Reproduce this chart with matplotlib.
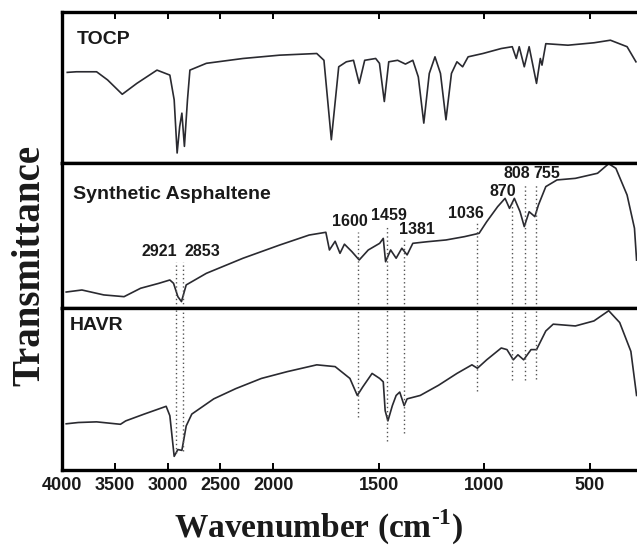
import numpy as np
import matplotlib
matplotlib.use("Agg")
import matplotlib.pyplot as plt

# FTIR spectra (wavenumber in cm-1, transmittance in arbitrary units per panel)
tocp_wn = [3950, 3863, 3672, 3568, 3429, 3291, 3100, 2978, 2937, 2909, 2885, 2864, 2840,
           2811, 2788, 2632, 2285, 1969, 1793, 1759, 1724, 1689, 1653, 1619, 1592, 1566,
           1514, 1496, 1473, 1452, 1410, 1373, 1338, 1312, 1286, 1260, 1233, 1207, 1181,
           1155, 1129, 1102, 1076, 1006, 919, 867, 848, 834, 810, 787, 752, 734, 726, 708,
           603, 480, 402, 323, 281]
tocp_t = [60, 60.4, 60.4, 55, 45.5, 52.7, 61.5, 58.2, 41.8, 6.6, 24, 33, 11,
          41.8, 61.5, 66, 69.2, 71.4, 72.5, 68, 15.4, 63.7, 67, 68, 52.7, 68,
          69.2, 66, 40.7, 67, 68, 65.5, 68, 57, 26.4, 59.3, 70.3, 59.3, 28.6,
          59.3, 67, 63.7, 70.3, 72.5, 75.8, 77, 69.2, 77, 63.7, 77, 52.7, 69.2, 64.8, 79,
          78, 79.6, 81.3, 77, 67]

asph_wn = [3960, 3811, 3604, 3412, 3255, 3082, 2978, 2943, 2902, 2868, 2823, 2632, 2285,
           1969, 1829, 1750, 1733, 1706, 1683, 1662, 1627, 1592, 1549, 1495, 1478, 1467,
           1443, 1417, 1390, 1365, 1338, 1269, 1181, 1093, 1024, 988, 936, 901, 880, 857,
           830, 810, 787, 760, 743, 708, 655, 568, 463, 410, 376, 323, 288, 278]
asph_t = [11, 12.4, 9, 7.8, 13.6, 17, 19.3, 17, 7.8, 4.4, 15.9, 23.9, 34.3,
          43.4, 50.3, 52.2, 40, 46, 37.7, 44, 38.9, 33.1, 40, 44.6, 48, 31.9,
          40, 34.3, 41.2, 36.6, 44.6, 45.7, 46.9, 49.2, 51.5, 59.5, 69.9, 75.6, 68.7, 75.6,
          66.4, 56.1, 66.4, 63, 71, 83.7, 88.3, 89.4, 92.9, 99.5, 96.3, 77.9, 55, 33]

havr_wn = [3960, 3845, 3672, 3446, 3396, 3221, 3082, 3013, 2978, 2937, 2902, 2864, 2823,
           2770, 2562, 2354, 2111, 1933, 1793, 1706, 1636, 1601, 1575, 1531, 1495, 1478,
           1469, 1456, 1435, 1417, 1400, 1379, 1365, 1303, 1216, 1129, 1058, 1032, 988,
           919, 892, 862, 840, 813, 778, 752, 708, 673, 568, 480, 410, 358, 305, 278]
havr_t = [28.5, 29.3, 29.7, 28.2, 30.3, 34.5, 37.7, 39.3, 33.5, 8.4, 12.6, 12.1, 27.2,
          34.5, 43.9, 50.2, 56.5, 60.7, 64.9, 63.8, 56.5, 46, 51.3, 59.6, 56.5, 54.4,
          36.6, 30.3, 39.7, 46, 48.1, 39.7, 43.9, 46, 52.3, 59.6, 64.9, 62.8, 68,
          75.3, 74.3, 68, 71.1, 68, 74.3, 74.3, 85.8, 90, 88.9, 92, 98.3, 91, 73.2, 46]

# assigned bands
peak_wn = [2921, 2853, 1600, 1459, 1381, 1036, 870, 808, 755]
peak_labels = ["2921", "2853", "1600", "1459", "1381", "1036", "870", "808", "755"]
peak_label_t = [38.8, 38.8, 59.5, 64.1, 53.8, 65.3, 80.2, 92.9, 92.9]   # label height, middle panel
peak_end_t = [10.5, 12, 33, 18, 23, 49, 55.6, 55.6, 56]                 # line end, HAVR panel

ticks = [4000, 3500, 3000, 2500, 2000, 1500, 1000, 500]


def fwd(w):
    w = np.asarray(w, dtype=float)
    return np.where(w > 2000, 2000 + (w - 2000) / 2.0, w)


def inv(u):
    u = np.asarray(u, dtype=float)
    return np.where(u > 2000, 2000 + (u - 2000) * 2.0, u)


plt.rcParams["mathtext.fontset"] = "custom"
plt.rcParams["mathtext.rm"] = "Liberation Serif:bold"
plt.rcParams["mathtext.bf"] = "Liberation Serif:bold"

sans = ["Liberation Sans", "DejaVu Sans"]
serif = ["Liberation Serif", "DejaVu Serif"]
ink = "#1a1a1a"

fig = plt.figure(figsize=(6.37, 5.52), dpi=100)
gs = fig.add_gridspec(3, 1, left=0.0973, right=1.0, top=0.9783, bottom=0.1486,
                      hspace=0, height_ratios=[151, 145, 162])
axes = [fig.add_subplot(gs[i]) for i in range(3)]

curves = [(tocp_wn, tocp_t), (asph_wn, asph_t), (havr_wn, havr_t)]
names = ["TOCP", "Synthetic Asphaltene", "HAVR"]
name_x = [0.026, 0.019, 0.014]
name_y = [0.82, 0.786, 0.89]

for i, ax in enumerate(axes):
    ax.set_xscale("function", functions=(fwd, inv))
    wn, t = curves[i]
    ax.plot(wn, t, color="#2a2a30", lw=1.2)
    ax.set_xlim(4000, 276)
    ax.set_ylim(0, 100)
    ax.set_yticks([])
    ax.set_xticks(ticks)
    for s in ax.spines.values():
        s.set_linewidth(2.4)
        s.set_color("black")
    ax.spines["right"].set_visible(False)
    ax.tick_params(axis="x", direction="in", length=5, width=1.4, pad=5,
                   top=(i == 0), bottom=(i == 2), labelbottom=(i == 2))
    ax.text(name_x[i], name_y[i], names[i], transform=ax.transAxes, ha="left", va="center",
            fontsize=14, fontweight="bold", family=sans, color=ink)

axes[2].set_xticklabels([str(v) for v in ticks], fontsize=13, fontweight="bold",
                        family=sans, color=ink)

# peak labels and dotted guide lines (label offsets in pixels from the line)
dx_px = [-17, 19, -7.6, 1.5, 13, -11, -9, -8, 11]
for k, w in enumerate(peak_wn):
    axes[1].annotate(peak_labels[k], xy=(w, peak_label_t[k]), xytext=(dx_px[k] * 0.72, 0),
                     textcoords="offset points", ha="center", va="center",
                     fontsize=11.5, fontweight="bold", family=sans, color=ink)
    axes[1].vlines(w, 0, peak_label_t[k] - 7, colors="#555555", lw=1.0,
                   linestyles=(0, (1, 2)))
    axes[2].vlines(w, peak_end_t[k], 100, colors="#555555", lw=1.0,
                   linestyles=(0, (1, 2)))

fig.text(0.047, 0.52, "Transmittance", rotation=90, ha="center", va="center",
         fontsize=28, fontweight="bold", family=serif, color=ink)
fig.text(0.5, 0.045, r"Wavenumber (cm$^{\text{-}1}$)", ha="center", va="center",
         fontsize=24, fontweight="bold", family=serif, color=ink)

fig.savefig("out.png", dpi=100)
